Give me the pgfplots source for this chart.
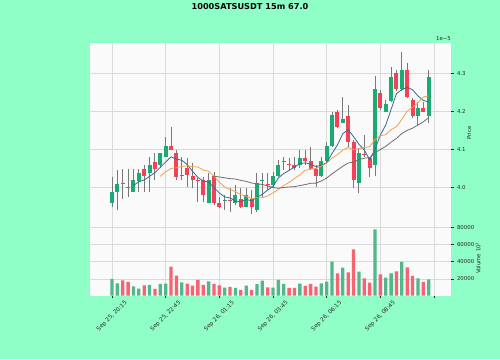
\documentclass[border=0pt]{standalone}
\usepackage{pgfplots}
\pgfplotsset{compat=1.18}
\usepackage{pgfplotstable}
\usepackage{fontspec}
\setmainfont{DejaVu Sans}
\definecolor{figbg}{RGB}{143,254,199}
\definecolor{plotbg}{RGB}{250,250,250}
\definecolor{gridcol}{RGB}{218,218,218}
\definecolor{upc}{RGB}{26,170,115}
\definecolor{dnc}{RGB}{245,65,85}
\definecolor{volup}{RGB}{80,185,140}
\definecolor{voldn}{RGB}{245,100,112}
\definecolor{wickc}{RGB}{120,120,120}
\definecolor{maA}{RGB}{55,105,140}
\definecolor{maB}{RGB}{240,160,80}
\definecolor{maC}{RGB}{110,110,110}
\definecolor{txtc}{RGB}{40,40,40}

\pgfplotstableread{
i o h l c v
0 3.9588 4.029 3.950 3.9895 20000
1 3.9895 4.0465 3.941 4.0096 14960
4 3.9895 4.048 3.9895 4.020 11470
5 4.018 4.048 3.9895 4.039 8760
7 4.039 4.082 3.9895 4.060 13020
9 4.060 4.090 4.051 4.090 14190
10 4.080 4.134 4.080 4.1096 14570
13 4.0315 4.0816 4.020 4.034 16120
18 3.9605 4.038 3.959 4.020 17290
21 3.9655 3.981 3.941 3.968 9920
23 3.9605 4.007 3.954 3.981 9530
25 3.950 3.998 3.948 3.981 12240
27 3.941 4.038 3.937 4.0114 14000
28 4.0175 4.038 3.976 4.020 18060
30 4.007 4.042 4.000 4.0307 9920
31 4.0307 4.073 4.028 4.0596 18840
32 4.0665 4.0816 4.046 4.069 14190
35 4.0596 4.099 4.051 4.077 14570
39 4.0307 4.0816 4.029 4.070 14960
40 4.070 4.121 4.068 4.1096 16900
41 4.1096 4.200 4.107 4.191 40160
43 4.171 4.2395 4.169 4.180 33180
46 4.0114 4.1035 3.985 4.090 28530
49 4.0596 4.295 4.030 4.2588 77750
51 4.200 4.231 4.198 4.220 21550
52 4.229 4.318 4.226 4.292 26590
54 4.259 4.358 4.254 4.3096 39770
57 4.1886 4.226 4.165 4.2105 20780
59 4.1886 4.3096 4.169 4.2904 19610
}\upc

\pgfplotstableread{
i o h l c v
2 4.0130 4.048 3.969 4.0105 18450
3 4.0025 4.048 3.975 4.000 16510
6 4.048 4.060 3.9895 4.031 12640
8 4.068 4.090 4.020 4.048 8370
11 4.1096 4.1605 4.099 4.099 34340
12 4.090 4.099 4.020 4.029 23870
14 4.051 4.077 4.0026 4.0333 14570
15 4.0307 4.064 3.998 4.020 12240
16 4.0215 4.025 3.963 4.019 18840
17 4.020 4.029 3.963 3.981 13020
19 4.0307 4.042 3.954 3.9605 14190
20 3.959 3.976 3.9456 3.950 12640
22 3.9685 3.998 3.937 3.966 10700
24 3.969 3.998 3.9456 3.950 7210
26 3.969 3.994 3.932 3.950 7210
29 4.0095 4.038 3.994 4.007 10310
33 4.0635 4.077 4.046 4.061 9530
34 4.0596 4.0816 4.0465 4.0509 9530
36 4.079 4.099 4.060 4.070 11860
37 4.070 4.106 4.0465 4.049 14190
38 4.049 4.060 4.0026 4.0307 11090
42 4.200 4.2044 4.156 4.1605 26590
44 4.1886 4.2175 4.108 4.121 27750
45 4.121 4.125 3.998 4.020 54500
47 4.0885 4.140 4.082 4.086 20780
48 4.077 4.079 4.029 4.051 15740
50 4.248 4.257 4.204 4.2088 25430
53 4.301 4.310 4.254 4.259 28910
55 4.3096 4.327 4.235 4.2395 33570
56 4.2307 4.235 4.1825 4.1886 23490
58 4.2105 4.226 4.198 4.200 16510
}\dnc

\pgfplotstableread{
i m5 m10 m20
0 nan nan nan
1 nan nan nan
2 nan nan nan
3 nan nan nan
4 4.0059 nan nan
5 4.0158 nan nan
6 4.0201 nan nan
7 4.0300 nan nan
8 4.0396 nan nan
9 4.0536 4.0298 nan
10 4.0677 4.0418 nan
11 4.0813 4.0507 nan
12 4.0751 4.0526 nan
13 4.0723 4.0560 nan
14 4.0610 4.0573 nan
15 4.0431 4.0554 nan
16 4.0271 4.0542 nan
17 4.0175 4.0463 nan
18 4.0147 4.0435 nan
19 4.0001 4.0305 4.0302
20 3.9861 4.0146 4.0282
21 3.9759 4.0015 4.0261
22 3.9729 3.9952 4.0239
23 3.9651 3.9899 4.0229
24 3.9630 3.9816 4.0194
25 3.9692 3.9777 4.0165
26 3.9656 3.9708 4.0125
27 3.9747 3.9738 4.0100
28 3.9825 3.9738 4.0086
29 3.9939 3.9784 4.0045
30 4.0038 3.9865 4.0006
31 4.0257 3.9957 3.9986
32 4.0373 4.0060 4.0006
33 4.0455 4.0140 4.0019
34 4.0542 4.0241 4.0028
35 4.0635 4.0337 4.0057
36 4.0656 4.0457 4.0082
37 4.0616 4.0494 4.0116
38 4.0555 4.0505 4.0121
39 4.0593 4.0568 4.0176
40 4.0659 4.0647 4.0256
41 4.0901 4.0778 4.0367
42 4.1124 4.0870 4.0465
43 4.1422 4.0989 4.0564
44 4.1524 4.1059 4.0650
45 4.1345 4.1002 4.0669
46 4.1143 4.1022 4.0739
47 4.0994 4.1059 4.0777
48 4.0736 4.1079 4.0792
49 4.1012 4.1268 4.0918
50 4.1389 4.1367 4.1007
51 4.1649 4.1396 4.1087
52 4.2061 4.1528 4.1199
53 4.2477 4.1607 4.1298
54 4.2579 4.1795 4.1427
55 4.2640 4.2015 4.1508
56 4.2577 4.2113 4.1568
57 4.2414 4.2238 4.1648
58 4.2296 4.2387 4.1733
59 4.2258 4.2418 4.1843
}\mavg

\pgfplotsset{
  panel/.style={
    scale only axis,
    width=361pt,
    xmin=-4.1, xmax=63.16,
    xtick={0,10,20,30,40,50,60},
    axis background/.style={fill=plotbg},
    axis line style={draw=none},
    grid=major,
    major grid style={line width=0.6pt, draw=gridcol},
    tick align=outside,
    major tick length=2.5pt,
    tick style={draw=txtc, line width=0.6pt},
    ytick pos=right,
    yticklabel pos=right,
    ticklabel style={font=\fontsize{5.4}{6.4}\selectfont, text=txtc},
    /pgf/number format/assume math mode=true,
    scaled y ticks=false,
    clip=true,
  },
  candle/.style 2 args={draw=none, mark=none, forget plot,
    error bars/y dir=plus, error bars/y explicit, error bars/error mark=none,
    error bars/error bar style={draw=#1, solid, line width=#2}},
}

\begin{document}
\begin{tikzpicture}[x=1pt,y=1pt]
\fill[figbg] (0,0) rectangle (500,359);

\begin{axis}[panel,
  at={(90pt,136pt)}, anchor=south west,
  height=180pt,
  ymin=3.9071, ymax=4.3808,
  ytick={4.0,4.1,4.2,4.3},
  yticklabel style={/pgf/number format/fixed, /pgf/number format/fixed zerofill, /pgf/number format/precision=1},
  xticklabels={},
  xtick style={draw=none},
]
% wicks
\addplot[candle={wickc}{0.9pt}]
  table[x=i, y=l, y error plus expr=\thisrow{h}-\thisrow{l}] {\upc};
\addplot[candle={wickc}{0.9pt}]
  table[x=i, y=l, y error plus expr=\thisrow{h}-\thisrow{l}] {\dnc};
% bodies
\addplot[candle={upc}{4.0pt}]
  table[x=i, y=o, y error plus expr=\thisrow{c}-\thisrow{o}] {\upc};
\addplot[candle={dnc}{4.0pt}]
  table[x=i, y=c, y error plus expr=\thisrow{o}-\thisrow{c}] {\dnc};
% moving averages
\addplot[maA, line width=0.8pt, mark=none] table[x=i, y=m5] {\mavg};
\addplot[maB, line width=0.8pt, mark=none] table[x=i, y=m10] {\mavg};
\addplot[maC, line width=0.8pt, mark=none] table[x=i, y=m20] {\mavg};
\end{axis}

\begin{axis}[panel,
  at={(90pt,63.5pt)}, anchor=south west,
  height=72.5pt,
  ymin=800, ymax=85100,
  ytick={20000,40000,60000,80000},
  yticklabel style={/pgf/number format/fixed, /pgf/number format/1000 sep={}},
  xticklabels={{Sep 25, 20:15},{Sep 25, 22:45},{Sep 26, 01:15},{Sep 26, 03:45},{Sep 26, 06:15},{Sep 26, 08:45},{}},
  xticklabel style={yshift=-18pt, rotate=45, anchor=center, font=\fontsize{5.7}{6.8}\selectfont},
  xtick pos=bottom,
]
\addplot[ybar, bar width=3.3pt, bar shift=0pt, fill=volup, draw=none] table[x=i, y=v] {\upc};
\addplot[ybar, bar width=3.3pt, bar shift=0pt, fill=voldn, draw=none] table[x=i, y=v] {\dnc};
\end{axis}

\node[font=\bfseries\fontsize{8.2}{10}\selectfont, text=black] at (250,352) {1000SATSUSDT 15m 67.0};
\node[anchor=base east, font=\fontsize{5.4}{6.4}\selectfont, text=txtc, inner sep=0pt] at (451,318.8) {1e−5};
\node[rotate=90, font=\fontsize{5.4}{6.4}\selectfont, text=txtc] at (469,226) {Price};
\node[rotate=90, font=\fontsize{5.4}{6.4}\selectfont, text=txtc] at (478,101) {Volume  10\textsuperscript{3}};

\pgfresetboundingbox
\useasboundingbox (0,0) rectangle (500,359);
\end{tikzpicture}
\end{document}
